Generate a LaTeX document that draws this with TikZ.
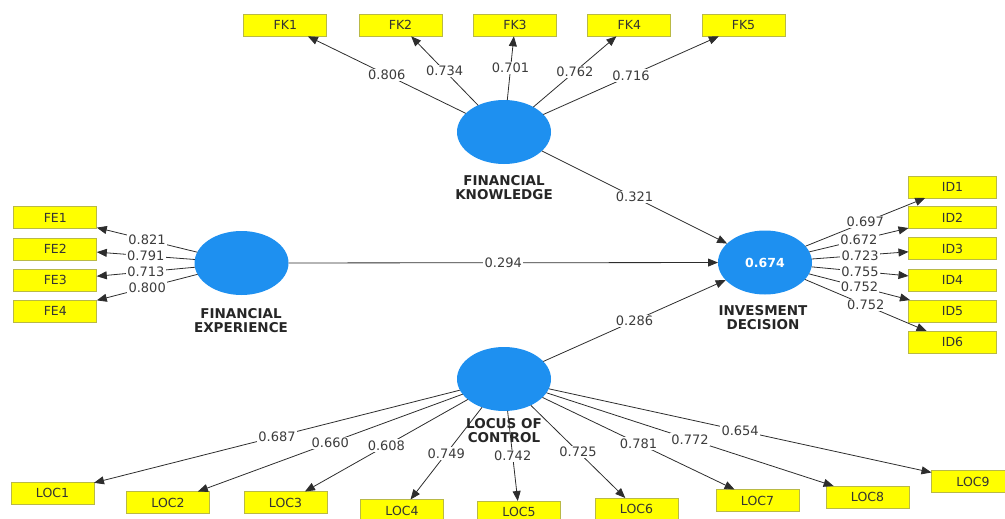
\documentclass[tikz,border=0pt]{standalone}
\usepackage{fontspec}
\setmainfont{DejaVu Sans}
\usetikzlibrary{shapes.geometric,arrows.meta}
\definecolor{lvblue}{RGB}{30,144,240}
\definecolor{indyellow}{RGB}{255,255,0}
\definecolor{indborder}{RGB}{185,185,70}
\definecolor{linegray}{RGB}{45,45,45}
\definecolor{numgray}{RGB}{60,60,60}
\begin{document}
\begin{tikzpicture}[x=1pt,y=-1pt,
 lv/.style={ellipse, fill=lvblue, minimum width=94pt, minimum height=64pt, inner sep=0pt, outer sep=0pt},
 ind/.style={rectangle, fill=indyellow, draw=indborder, line width=0.8pt, minimum width=83pt, minimum height=22pt, inner sep=0pt, outer sep=0pt, text=black!80, font=\fontsize{12.5}{14}\selectfont},
 indw/.style={ind, minimum width=88pt},
 lvlabel/.style={align=center, font=\bfseries\fontsize{13.5}{14}\selectfont, text=black!85, inner sep=0pt},
 conn/.style={draw=linegray, line width=0.8pt, -{Triangle[length=10pt,width=8pt]}},
 num/.style={fill=white, inner sep=1.2pt, font=\fontsize{13}{14}\selectfont, text=numgray},
]
\useasboundingbox (0,0) rectangle (1005,519);

% latent variables
\node[lv] (FK) at (504,132) {};
\node[lv] (FE) at (241.5,263) {};
\node[lv, text=white, font=\bfseries\fontsize{12.5}{14}\selectfont] (ID) at (765,262.5) {0.674};
\node[lv] (LOC) at (504,379) {};

% latent labels
\node[lvlabel] (FKl) at (504,187.5) {FINANCIAL\\KNOWLEDGE};
\node[lvlabel] (FEl) at (241,320.5) {FINANCIAL\\EXPERIENCE};
\node[lvlabel] (IDl) at (763,317.5) {INVESMENT\\DECISION};
\node[lvlabel] (LOCl) at (504,430.5) {LOCUS OF\\CONTROL};

% indicators FK
\node[ind] (FK1) at (285.3,25.3) {FK1};
\node[ind] (FK2) at (400.5,25.3) {FK2};
\node[ind] (FK3) at (515,25.3) {FK3};
\node[ind] (FK4) at (629.3,25.3) {FK4};
\node[ind] (FK5) at (743.5,25.3) {FK5};

% indicators FE
\node[ind] (FE1) at (55.3,217.5) {FE1};
\node[ind] (FE2) at (55.3,249) {FE2};
\node[ind] (FE3) at (55.3,280) {FE3};
\node[ind] (FE4) at (55.3,311) {FE4};

% indicators ID
\node[indw] (ID1) at (952.5,187) {ID1};
\node[indw] (ID2) at (952.5,217.5) {ID2};
\node[indw] (ID3) at (952.5,248.5) {ID3};
\node[indw] (ID4) at (952.5,280) {ID4};
\node[indw] (ID5) at (952.5,311) {ID5};
\node[indw] (ID6) at (952.5,342) {ID6};

% indicators LOC
\node[ind] (LOC1) at (52.5,493.3) {LOC1};
\node[ind] (LOC2) at (168,502.5) {LOC2};
\node[ind] (LOC3) at (285.5,502.5) {LOC3};
\node[ind] (LOC4) at (402,510.5) {LOC4};
\node[ind] (LOC5) at (519,512) {LOC5};
\node[ind] (LOC6) at (636.5,509) {LOC6};
\node[ind] (LOC7) at (757.5,500.5) {LOC7};
\node[ind] (LOC8) at (867.5,497) {LOC8};
\node[ind] (LOC9) at (973,481.5) {LOC9};

% structural paths
\draw[conn] (FK) -- node[num]{0.321} (ID);
\draw[conn] (FE) -- node[num]{0.294} (ID);
\draw[conn] (LOC) -- node[num]{0.286} (ID);

% FK loadings
\draw[conn] (FK) -- node[num]{0.806} (FK1);
\draw[conn] (FK) -- node[num]{0.734} (FK2);
\draw[conn] (FK) -- node[num]{0.701} (FK3);
\draw[conn] (FK) -- node[num]{0.762} (FK4);
\draw[conn] (FK) -- node[num]{0.716} (FK5);

% FE loadings
\draw[conn] (FE) -- node[num]{0.821} (FE1);
\draw[conn] (FE) -- node[num]{0.791} (FE2);
\draw[conn] (FE) -- node[num]{0.713} (FE3);
\draw[conn] (FE) -- node[num]{0.800} (FE4);

% ID loadings
\draw[conn] (ID) -- node[num]{0.697} (ID1);
\draw[conn] (ID) -- node[num]{0.672} (ID2);
\draw[conn] (ID) -- node[num]{0.723} (ID3);
\draw[conn] (ID) -- node[num]{0.755} (ID4);
\draw[conn] (ID) -- node[num]{0.752} (ID5);
\draw[conn] (ID) -- node[num]{0.752} (ID6);

% LOC loadings
\draw[conn] (LOC) -- node[num]{0.687} (LOC1);
\draw[conn] (LOC) -- node[num]{0.660} (LOC2);
\draw[conn] (LOC) -- node[num]{0.608} (LOC3);
\draw[conn] (LOC) -- node[num]{0.749} (LOC4);
\draw[conn] (LOC) -- node[num]{0.742} (LOC5);
\draw[conn] (LOC) -- node[num]{0.725} (LOC6);
\draw[conn] (LOC) -- node[num]{0.781} (LOC7);
\draw[conn] (LOC) -- node[num]{0.772} (LOC8);
\draw[conn] (LOC) -- node[num]{0.654} (LOC9);
\end{tikzpicture}
\end{document}
